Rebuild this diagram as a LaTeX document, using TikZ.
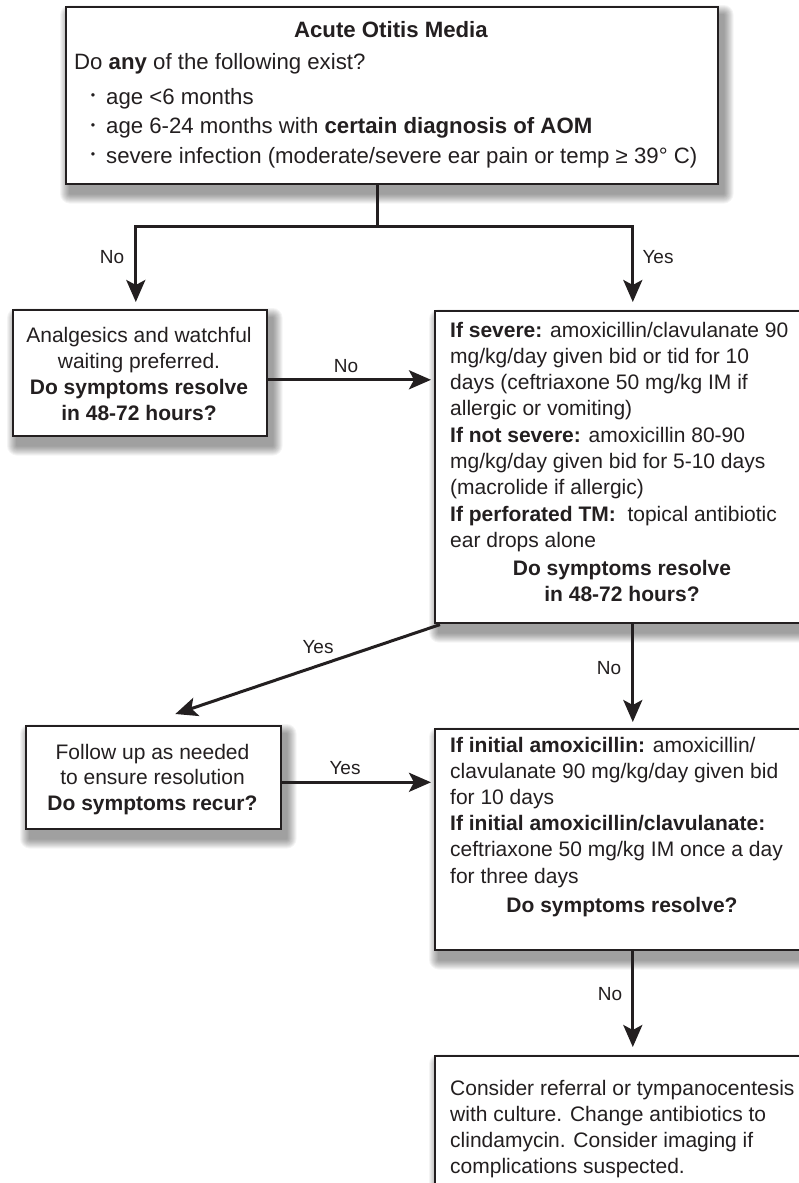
\documentclass[tikz,border=0pt]{standalone}
\usepackage{fontspec}
\setmainfont{Liberation Sans}
\usetikzlibrary{arrows.meta}
\definecolor{ink}{RGB}{35,31,32}
\pgfdeclarelayer{bg}
\pgfsetlayers{bg,main}
\newcommand\mkshadow[1]{%
  \begin{pgfonlayer}{bg}
  \begin{scope}
  \clip (0,0) rectangle (799,1183);
  \foreach \k in {0,...,9}{
    \pgfmathsetmacro\e{10-\k}
    \fill[black,opacity=0.045,rounded corners=\e pt]
      ([shift={(5-\e,9-\e)}]#1.north west) rectangle ([shift={(5+\e,9+\e)}]#1.south east);
  }
  \end{scope}
  \end{pgfonlayer}}
\begin{document}
\begin{tikzpicture}[x=1pt,y=-1pt,
  box/.style={draw=ink, line width=1.6pt, fill=white, rectangle, inner sep=0pt, anchor=north west},
  tx/.style={anchor=base west, inner sep=0pt, text=ink, font=\fontsize{21}{26}\selectfont},
  ctx/.style={anchor=base, inner sep=0pt, text=ink, font=\fontsize{21}{26}\selectfont},
  ttx/.style={anchor=base west, inner sep=0pt, text=ink, font=\fontsize{22.2}{26}\selectfont},
  tctx/.style={anchor=base, inner sep=0pt, text=ink, font=\fontsize{22.2}{26}\selectfont},
  bul/.style={anchor=center, inner sep=0pt, text=ink, font=\fontsize{12.5}{12.5}\selectfont},
  lbl/.style={anchor=center, inner sep=0pt, text=ink, font=\fontsize{19}{22}\selectfont},
  wire/.style={draw=ink, line width=3pt},
  conn/.style={draw=ink, line width=3pt, -{Stealth[length=22pt,width=19pt,inset=5pt]}}
]
\useasboundingbox (0,0) rectangle (799,1183);
\begin{pgfonlayer}{bg}
\fill[white] (0,0) rectangle (799,1183);
\end{pgfonlayer}
\clip (0,0) rectangle (799,1183);

% boxes
\node[box, minimum width=652pt, minimum height=177pt] (top) at (65,6) {};
\node[box, minimum width=254pt, minimum height=126pt] (l1) at (12,309) {};
\node[box, minimum width=396pt, minimum height=312pt] (r1) at (434,310) {};
\node[box, minimum width=255pt, minimum height=103pt] (l2) at (25,725) {};
\node[box, minimum width=396pt, minimum height=221pt] (r2) at (434,728) {};
\node[box, minimum width=396pt, minimum height=160pt] (r3) at (434,1055) {};
\mkshadow{top}
\mkshadow{l1}
\mkshadow{r1}
\mkshadow{l2}
\mkshadow{r2}
\mkshadow{r3}

% top box text
\node[tctx] (t0) at (391,37) {\textbf{Acute Otitis Media}};
\node[ttx] (t1) at (74,69) {Do \textbf{any} of the following exist?};
\foreach \s [count=\i from 0] in {{age <6 months},{age 6-24 months with \textbf{certain diagnosis of AOM}},{severe infection (moderate/severe ear pain or temp ≥ 39° C)}}{
  \node[bul] (tb\i) at (93,{97+29.5*\i}) {•};
  \node[ttx] (ti\i) at (106,{104+29.5*\i}) {\s};
}

% left box 1
\foreach \s [count=\i from 0] in {{Analgesics and watchful},{waiting preferred.},{\textbf{Do symptoms resolve}},{\textbf{in 48-72 hours?}}}
  \node[ctx] (la\i) at (139,{342+26*\i}) {\s};

% right box 1
\foreach \s [count=\i from 0] in {{\textbf{If severe:} amoxicillin/clavulanate 90},{mg/kg/day given bid or tid for 10},{days (ceftriaxone 50 mg/kg IM if},{allergic or vomiting)},{\textbf{If not severe:} amoxicillin 80-90},{mg/kg/day given bid for 5-10 days},{(macrolide if allergic)},{\textbf{If perforated TM:}\ \ topical antibiotic},{ear drops alone}}
  \node[tx] (ra\i) at (450,{337+26.3*\i}) {\s};
\node[ctx] (rq1) at (622,575) {\textbf{Do symptoms resolve}};
\node[ctx] (rq2) at (622,601) {\textbf{in 48-72 hours?}};

% left box 2
\foreach \s [count=\i from 0] in {{Follow up as needed},{to ensure resolution},{\textbf{Do symptoms recur?}}}
  \node[ctx] (lb\i) at (152.5,{759+25.5*\i}) {\s};

% right box 2
\foreach \s [count=\i from 0] in {{\textbf{If initial amoxicillin:} amoxicillin/},{clavulanate 90 mg/kg/day given bid},{for 10 days},{\textbf{If initial amoxicillin/clavulanate:}},{ceftriaxone 50 mg/kg IM once a day},{for three days}}
  \node[tx] (rb\i) at (450,{752+26.2*\i}) {\s};
\node[ctx] (rq3) at (622,912) {\textbf{Do symptoms resolve?}};

% bottom box
\foreach \s [count=\i from 0] in {{Consider referral or tympanocentesis},{with culture. Change antibiotics to},{clindamycin. Consider imaging if},{complications suspected.}}
  \node[tx] (rc\i) at (450,{1095+26*\i}) {\s};

% connectors
\coordinate (j) at (377,226);
\draw[wire] (j |- top.south) -- (j);
\draw[conn, shorten >=7pt] (j) -| ([xshift=-4pt]l1.north);
\draw[conn, shorten >=8pt] (j) -| (r1.north);
\draw[conn, shorten >=3pt] ([yshift=-7pt]l1.east) -- ([yshift=-7pt]l1.east -| r1.west);
\draw[conn] ([xshift=6pt,yshift=-1pt]r1.south west) -- ([xshift=22pt,yshift=11pt]l2.north);
\draw[conn, shorten >=6pt] (r1.south) -- (r2.north);
\draw[conn, shorten >=3pt] ([yshift=-5pt]l2.east) -- ([yshift=-5pt]l2.east -| r2.west);
\draw[conn, shorten >=8pt] (r2.south) -- (r3.north);

% labels
\node[lbl] (n1) at (112,257) {No};
\node[lbl] (y1) at (658,257) {Yes};
\node[lbl] (n2) at (346,366) {No};
\node[lbl] (y2) at (318,647) {Yes};
\node[lbl] (n3) at (609,668) {No};
\node[lbl] (y3) at (345,768) {Yes};
\node[lbl] (n4) at (610,994) {No};
\end{tikzpicture}
\end{document}
